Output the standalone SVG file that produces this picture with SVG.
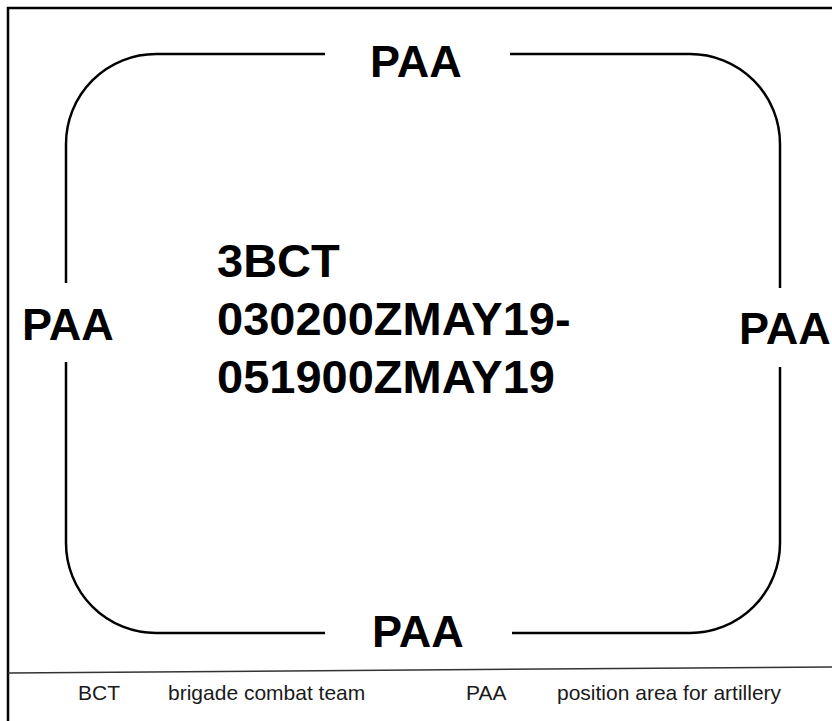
<svg xmlns="http://www.w3.org/2000/svg" width="832" height="721" viewBox="0 0 832 721">
<style>
.big{font-family:"Liberation Sans",Arial,sans-serif;font-weight:bold;fill:#000}
.lbl{font-size:45px}
.ctr{font-size:47px}
.leg{font-family:"Liberation Sans",Arial,sans-serif;font-size:21px;fill:#1a1a1a}
.ln{fill:none;stroke:#000;stroke-width:2.5}
</style>
<rect width="832" height="721" fill="#fff"/>
<path d="M8,721 V8 H834" fill="none" stroke="#000" stroke-width="2.5"/>
<g id="connectors">
<path class="ln" d="M325,54 H156 A90,90 0 0 0 66,144 V283"/>
<path class="ln" d="M66,362 V543 A90,90 0 0 0 156,633 H325"/>
<path class="ln" d="M510,54 H690 A90,90 0 0 1 780,144 V288"/>
<path class="ln" d="M780,367 V543 A90,90 0 0 1 690,633 H512"/>
</g>
<g id="paa-top"><text class="big lbl" x="370" y="77">PAA</text></g>
<g id="paa-bottom"><text class="big lbl" x="372" y="647">PAA</text></g>
<g id="paa-left"><text class="big lbl" x="22" y="340">PAA</text></g>
<g id="paa-right"><text class="big lbl" x="739" y="344">PAA</text></g>
<g id="center">
<text class="big ctr" x="217" y="277">3BCT</text>
<text class="big ctr" x="217" y="335">030200ZMAY19-</text>
<text class="big ctr" x="217" y="393">051900ZMAY19</text>
</g>
<g id="legend">
<line x1="8" y1="673" x2="832" y2="667" stroke="#333" stroke-width="1.5"/>
<text class="leg" x="78" y="700">BCT</text>
<text class="leg" x="168" y="700">brigade combat team</text>
<text class="leg" x="466" y="700">PAA</text>
<text class="leg" x="557" y="700">position area for artillery</text>
</g>
</svg>
